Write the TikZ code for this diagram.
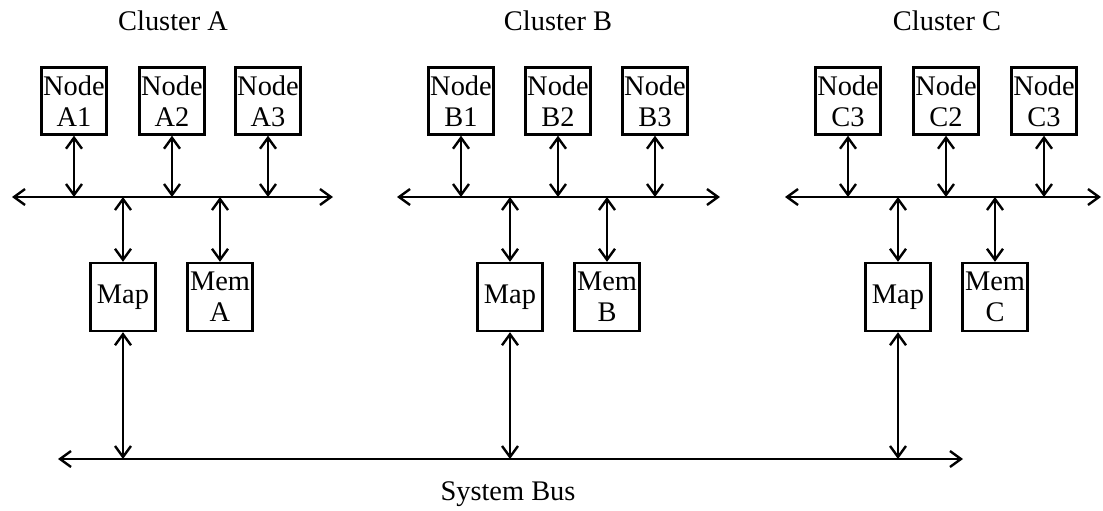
\documentclass[tikz,border=0pt]{standalone}
\usepackage{fontspec}
\setmainfont{Liberation Serif}
\usetikzlibrary{arrows.meta}
\begin{document}
\begin{tikzpicture}[x=0.5pt,y=-0.5pt,
  every node/.style={font=\fontsize{14.2}{15.5}\selectfont},
  box/.style={draw,line width=1.2pt,minimum width=32.5pt,minimum height=33.5pt,inner sep=0pt,align=center},
  link/.style={line width=1.2pt,{Straight Barb[length=5.5pt,width=8pt]}-{Straight Barb[length=5.5pt,width=8pt]}},
  title/.style={anchor=base}]
\useasboundingbox (0,0) rectangle (1103,510);
% titles
\node[title] (tA) at (173,30) {Cluster A};
\node[title] (tB) at (558,30) {Cluster B};
\node[title] (tC) at (947,30) {Cluster C};
\node[title] (tS) at (508,500) {System Bus};
% bus coordinates
\coordinate (busAL) at (12,197);
\coordinate (busAR) at (333,197);
\coordinate (busBL) at (397,197);
\coordinate (busBR) at (720,197);
\coordinate (busCL) at (785,197);
\coordinate (busCR) at (1101,197);
\coordinate (sysL) at (58,459);
\coordinate (sysR) at (963,459);
% cluster A
\node[box] (nA1) at (74,101) {Node\\A1};
\node[box] (nA2) at (172,101) {Node\\A2};
\node[box] (nA3) at (268,101) {Node\\A3};
\node[box,minimum height=34pt] (mapA) at (123,297) {Map};
\node[box,minimum height=34pt] (memA) at (220,297) {Mem\\A};
% cluster B
\node[box] (nB1) at (461,101) {Node\\B1};
\node[box] (nB2) at (558,101) {Node\\B2};
\node[box] (nB3) at (655,101) {Node\\B3};
\node[box,minimum height=34pt] (mapB) at (510,297) {Map};
\node[box,minimum height=34pt] (memB) at (607,297) {Mem\\B};
% cluster C
\node[box] (nC1) at (848,101) {Node\\C3};
\node[box] (nC2) at (946,101) {Node\\C2};
\node[box] (nC3) at (1044,101) {Node\\C3};
\node[box,minimum height=34pt] (mapC) at (898,297) {Map};
\node[box,minimum height=34pt] (memC) at (995,297) {Mem\\C};
% buses
\draw[link] (busAL) -- (busAR);
\draw[link] (busBL) -- (busBR);
\draw[link] (busCL) -- (busCR);
\draw[link] (sysL) -- (sysR);
% node links
\foreach \n/\b in {nA1/busAL,nA2/busAL,nA3/busAL,nB1/busBL,nB2/busBL,nB3/busBL,nC1/busCL,nC2/busCL,nC3/busCL}{
  \draw[link] (\n.south) -- (\n.south |- \b);
}
\foreach \n/\b in {mapA/busAL,memA/busAL,mapB/busBL,memB/busBL,mapC/busCL,memC/busCL}{
  \draw[link] (\n.north |- \b) -- (\n.north);
}
\foreach \n in {mapA,mapB,mapC}{
  \draw[link] (\n.south) -- (\n.south |- sysL);
}
\end{tikzpicture}
\end{document}
